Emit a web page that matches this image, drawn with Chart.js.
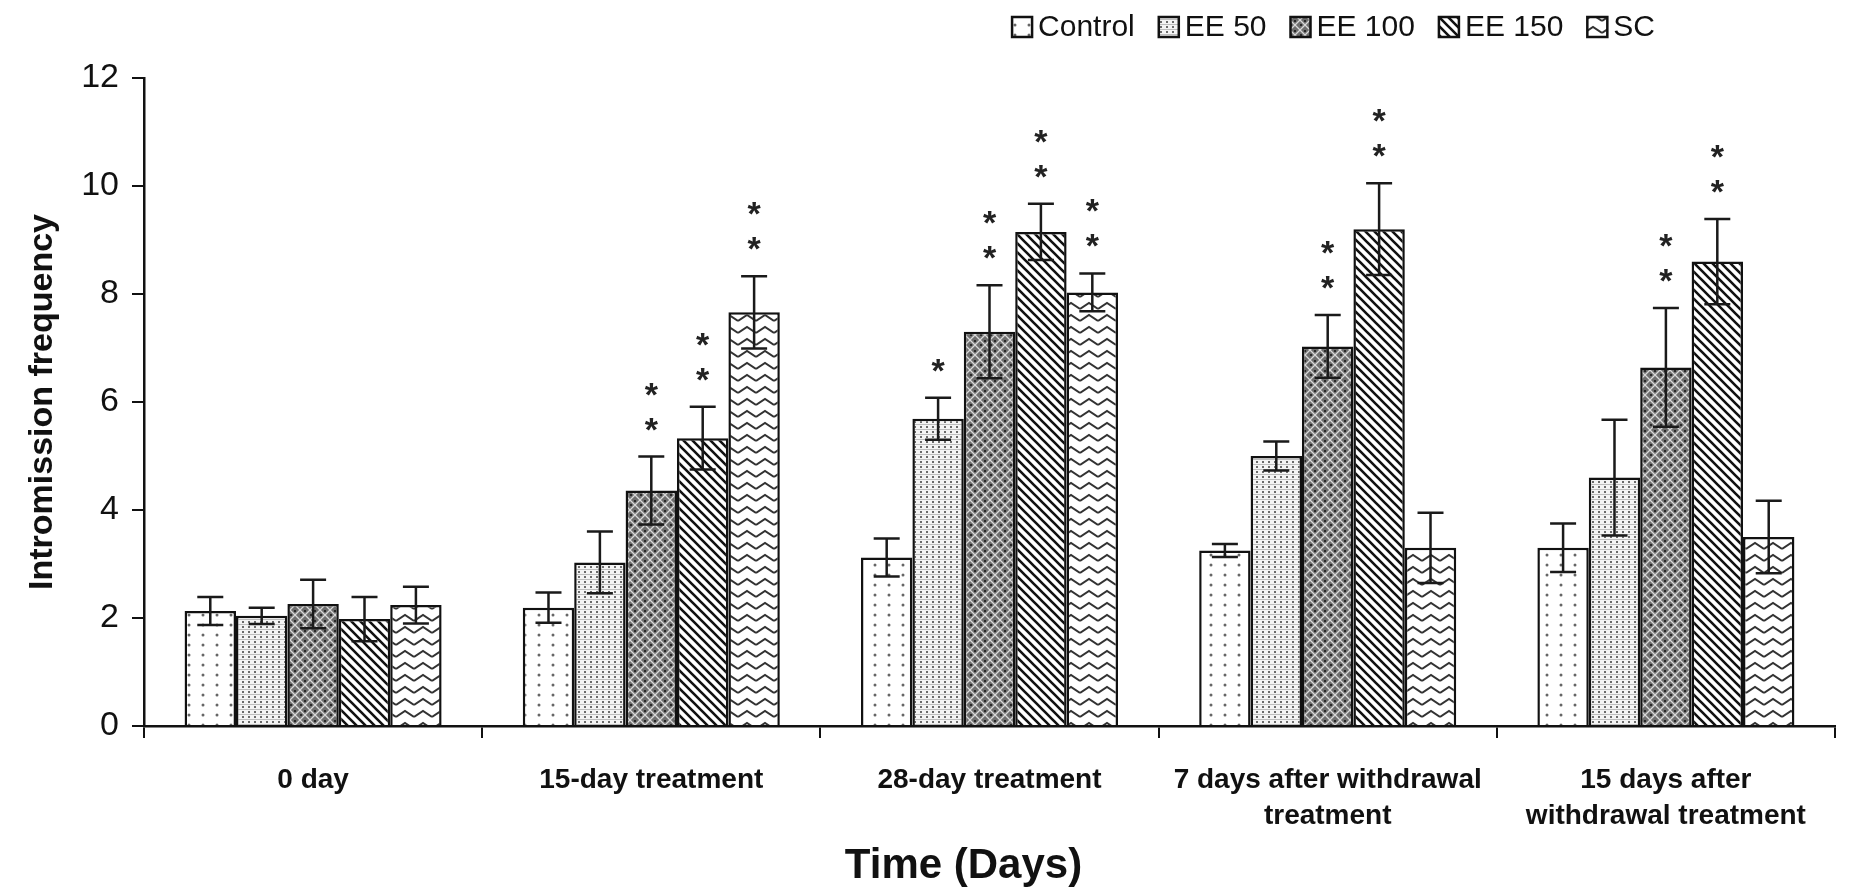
<!DOCTYPE html>
<html>
<head>
<meta charset="utf-8">
<script src="https://cdn.jsdelivr.net/npm/chart.js@4.4.0/dist/chart.umd.min.js"></script>
<style>
  html, body { margin: 0; padding: 0; background: #fff; }
</style>
</head>
<body>
<canvas id="chart" width="1850" height="889"></canvas>
<script>
const categories = [
  "0 day",
  "15-day treatment",
  "28-day treatment",
  ["7 days after withdrawal", "treatment"],
  ["15 days after", "withdrawal treatment"],
];
const seriesNames = ["Control", "EE 50", "EE 100", "EE 150", "SC"];
const yTicks = [0, 2, 4, 6, 8, 10, 12];
const xTitle = "Time (Days)";

// means
const controlValues = [2.13, 2.19, 3.12, 3.25, 3.3];
const ee50Values = [2.04, 3.03, 5.69, 5.0, 4.6];
const ee100Values = [2.26, 4.36, 7.3, 7.03, 6.64];
const ee150Values = [1.98, 5.33, 9.15, 9.2, 8.6];
const scValues = [2.24, 7.66, 8.03, 3.3, 3.5];

// error bars (+/-)
const controlErr = [0.26, 0.28, 0.35, 0.12, 0.45];
const ee50Err = [0.15, 0.57, 0.39, 0.27, 1.07];
const ee100Err = [0.45, 0.63, 0.86, 0.58, 1.1];
const ee150Err = [0.41, 0.58, 0.52, 0.85, 0.79];
const scErr = [0.34, 0.67, 0.35, 0.65, 0.67];

// significance marks
const controlStars = ["", "", "", "", ""];
const ee50Stars = ["", "", "*", "", ""];
const ee100Stars = ["", "**", "**", "**", "**"];
const ee150Stars = ["", "**", "**", "**", "**"];
const scStars = ["", "**", "**", "", ""];

function tile(w, h, draw) {
  const c = document.createElement("canvas");
  c.width = w;
  c.height = h;
  const g = c.getContext("2d");
  draw(g, w, h);
  return g.createPattern(c, "repeat");
}

const patterns = [
  // sparse dots
  tile(14, 10, (g, w, h) => {
    g.fillStyle = "#fff";
    g.fillRect(0, 0, w, h);
    g.fillStyle = "#666";
    g.beginPath();
    g.arc(7, 5, 1.5, 0, 2 * Math.PI);
    g.fill();
  }),
  // dense dots
  tile(6, 5, (g, w, h) => {
    g.fillStyle = "#f4f4f4";
    g.fillRect(0, 0, w, h);
    g.fillStyle = "#6a6a6a";
    g.fillRect(2, 1, 2, 2);
    g.fillStyle = "#bdbdbd";
    g.fillRect(0, 4, 6, 1);
  }),
  // dark diamond lattice
  tile(10, 10, (g, w, h) => {
    g.fillStyle = "#6e6e6e";
    g.fillRect(0, 0, w, h);
    g.strokeStyle = "#d8d8d8";
    g.lineWidth = 1.3;
    g.beginPath();
    g.moveTo(0, 0); g.lineTo(10, 10);
    g.moveTo(10, 0); g.lineTo(0, 10);
    g.stroke();
    g.fillStyle = "#2a2a2a";
    g.fillRect(4, 0, 2, 2);
    g.fillRect(0, 4, 2, 2);
  }),
  // diagonal stripes
  tile(9, 9, (g, w, h) => {
    g.fillStyle = "#fff";
    g.fillRect(0, 0, w, h);
    g.strokeStyle = "#111";
    g.lineWidth = 2.6;
    g.beginPath();
    g.moveTo(-2, -2); g.lineTo(11, 11);
    g.moveTo(-2, 7); g.lineTo(2, 11);
    g.moveTo(7, -2); g.lineTo(11, 2);
    g.stroke();
  }),
  // zigzag
  tile(18, 12, (g, w, h) => {
    g.fillStyle = "#fff";
    g.fillRect(0, 0, w, h);
    g.strokeStyle = "#333";
    g.lineWidth = 2;
    g.beginPath();
    g.moveTo(0, 9); g.lineTo(9, 3); g.lineTo(18, 9);
    g.stroke();
  }),
];

const valueSets = [controlValues, ee50Values, ee100Values, ee150Values, scValues];
const errSets = [controlErr, ee50Err, ee100Err, ee150Err, scErr];
const starSets = [controlStars, ee50Stars, ee100Stars, ee150Stars, scStars];

const errorBarPlugin = {
  id: "errorBars",
  afterDatasetsDraw(chart) {
    const ctx = chart.ctx;
    const y = chart.scales.y;
    ctx.save();
    chart.data.datasets.forEach((ds, i) => {
      const meta = chart.getDatasetMeta(i);
      meta.data.forEach((bar, j) => {
        const v = ds.data[j];
        const e = errSets[i][j];
        const top = y.getPixelForValue(v + e);
        const bottom = y.getPixelForValue(v - e);
        ctx.strokeStyle = "#1a1a1a";
        ctx.lineWidth = 2.5;
        ctx.beginPath();
        ctx.moveTo(bar.x, top);
        ctx.lineTo(bar.x, bottom);
        ctx.moveTo(bar.x - 13, top);
        ctx.lineTo(bar.x + 13, top);
        ctx.moveTo(bar.x - 13, bottom);
        ctx.lineTo(bar.x + 13, bottom);
        ctx.stroke();

        const stars = starSets[i][j];
        ctx.fillStyle = "#222";
        ctx.font = "bold 34px 'Liberation Sans', Arial, sans-serif";
        ctx.textAlign = "center";
        ctx.textBaseline = "alphabetic";
        for (let k = 0; k < stars.length; k++) {
          const cy = top - 36 - k * 35;
          ctx.fillText("*", bar.x, cy + 20);
        }
      });
    });
    ctx.restore();
  },
};

const legendPlugin = {
  id: "topLegend",
  afterDraw(chart) {
    const ctx = chart.ctx;
    ctx.save();
    ctx.font = "30px 'Liberation Sans', Arial, sans-serif";
    ctx.textBaseline = "middle";
    ctx.textAlign = "left";
    const box = 20;
    const gapText = 6;
    const gapItem = 24;
    const widths = chart.data.datasets.map(
      (ds) => box + gapText + ctx.measureText(ds.label).width
    );
    const total = widths.reduce((a, b) => a + b, 0) + gapItem * (widths.length - 1);
    let x = 1655 - total;
    const cy = 27;
    chart.data.datasets.forEach((ds, i) => {
      ctx.fillStyle = ds.backgroundColor;
      ctx.fillRect(x, cy - box / 2, box, box);
      ctx.strokeStyle = "#111";
      ctx.lineWidth = 2.5;
      ctx.strokeRect(x, cy - box / 2, box, box);
      ctx.fillStyle = "#111";
      ctx.fillText(ds.label, x + box + gapText, cy + 1);
      x += widths[i] + gapItem;
    });
    ctx.restore();
  },
};

// x axis title drawn under the tick labels, slightly left of center as in the original
const xTitlePlugin = {
  id: "xTitle",
  afterDraw(chart) {
    const ctx = chart.ctx;
    const area = chart.chartArea;
    ctx.save();
    ctx.font = "bold 42px 'Liberation Sans', Arial, sans-serif";
    ctx.fillStyle = "#111";
    ctx.textAlign = "center";
    ctx.textBaseline = "middle";
    ctx.fillText(xTitle, (area.left + area.right) / 2 - 26, 866);
    ctx.restore();
  },
};

new Chart(document.getElementById("chart").getContext("2d"), {
  type: "bar",
  data: {
    labels: categories,
    datasets: seriesNames.map((name, i) => ({
      label: name,
      data: valueSets[i],
      backgroundColor: patterns[i],
      borderColor: "#111",
      borderWidth: 2.5,
      borderSkipped: "bottom",
      categoryPercentage: 0.76,
      barPercentage: 1.0,
    })),
  },
  options: {
    responsive: false,
    animation: false,
    layout: {
      padding: { left: 10, right: 15, top: 78, bottom: 0 },
    },
    plugins: {
      legend: { display: false },
      tooltip: { enabled: false },
    },
    scales: {
      x: {
        afterFit: (scale) => {
          scale.height = 163;
        },
        grid: {
          offset: true,
          drawOnChartArea: false,
          drawTicks: true,
          tickLength: 12,
          color: "#111",
          lineWidth: 2,
        },
        border: { display: true, color: "#111", width: 2.5 },
        ticks: {
          color: "#111",
          padding: 24,
          maxRotation: 0,
          autoSkip: false,
          font: {
            family: "'Liberation Sans', Arial, sans-serif",
            size: 28,
            weight: "bold",
            lineHeight: 1.3,
          },
        },
      },
      y: {
        min: 0,
        max: 12,
        afterFit: (scale) => {
          scale.width = 134;
        },
        afterBuildTicks: (scale) => {
          scale.ticks = yTicks.map((v) => ({ value: v }));
        },
        grid: {
          drawOnChartArea: false,
          drawTicks: true,
          tickLength: 12,
          color: "#111",
          lineWidth: 2,
        },
        border: { display: true, color: "#111", width: 2.5 },
        ticks: {
          color: "#111",
          padding: 13,
          font: { family: "'Liberation Sans', Arial, sans-serif", size: 34 },
        },
        title: {
          display: true,
          text: "Intromission frequency",
          color: "#111",
          padding: { top: 12, bottom: 0 },
          font: { family: "'Liberation Sans', Arial, sans-serif", size: 34, weight: "bold" },
        },
      },
    },
  },
  plugins: [errorBarPlugin, legendPlugin, xTitlePlugin],
});
</script>
</body>
</html>
